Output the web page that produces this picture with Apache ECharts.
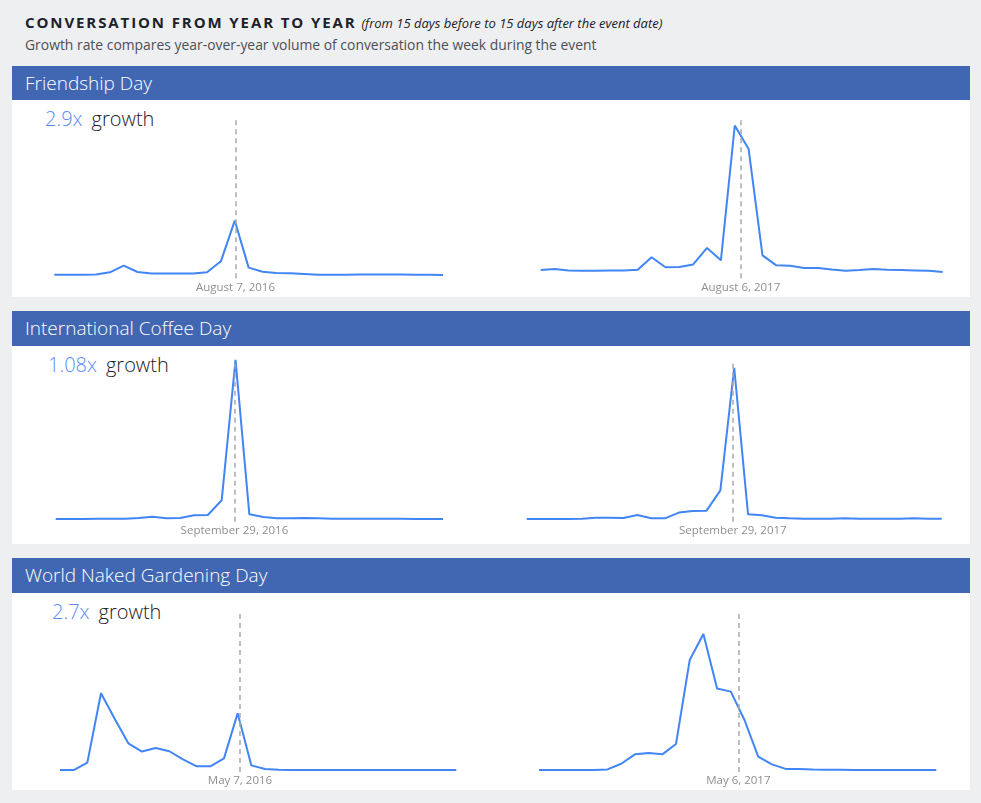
<!DOCTYPE html>
<html><head><meta charset="utf-8">
<script src="https://cdn.jsdelivr.net/npm/echarts@6/dist/echarts.min.js"></script>
<style>
html,body{margin:0;padding:0;}
body{width:981px;height:803px;background:#eeeff1;position:relative;overflow:hidden;font-family:"Open Sans",sans-serif;}
.t1{position:absolute;left:25px;top:12px;font-size:15px;font-weight:700;letter-spacing:1.9px;color:#1d2129;white-space:nowrap;}
.t1 i{font-weight:400;letter-spacing:0;font-size:13px;color:#1d2129;margin-left:-1px;}
.t2{position:absolute;left:25px;top:35px;font-size:13.9px;color:#4b4f56;white-space:nowrap;}
.bar{position:absolute;left:12px;width:958px;height:35px;background:#4267b2;color:#fff;font-size:19px;font-weight:300;line-height:35px;box-sizing:border-box;padding-left:13px;white-space:nowrap;}
.panel{position:absolute;left:12px;width:958px;background:#fff;}
.growth{position:absolute;font-size:20px;font-weight:300;white-space:nowrap;line-height:24px;}
.growth .g{color:#5b8bf2;margin-right:9px;}
.growth .w{color:#1d2129;}
#chart{position:absolute;left:0;top:0;width:981px;height:803px;z-index:5;}
</style></head>
<body>
<div class="t1">CONVERSATION FROM YEAR TO YEAR <i>(from 15 days before to 15 days after the event date)</i></div>
<div class="t2">Growth rate compares year-over-year volume of conversation the week during the event</div>
<div id="chart"></div>
<script>
// ---- data ----
const panelTitles = ["Friendship Day", "International Coffee Day", "World Naked Gardening Day"];
const growthValues = ["2.9x", "1.08x", "2.7x"];
const growthWord = "growth";
const dateLabels = [["August 7, 2016", "August 6, 2017"], ["September 29, 2016", "September 29, 2017"], ["May 7, 2016", "May 6, 2017"]];
// position of the event date along each series (in day index)
const eventPos = [[13.05, 14.43], [12.92, 14.9], [13.17, 14.55]];

const friendship2016 = [2.2,2.2,2.2,2.4,3.7,7.8,3.9,2.9,2.9,2.9,2.9,3.7,10.5,35.7,6.6,4.1,3.3,3.1,2.7,2.2,2.2,2.2,2.4,2.4,2.4,2.4,2.2,2.2,2.0];
const friendship2017 = [5.1,5.8,4.9,4.7,4.7,4.9,4.9,5.3,13.0,6.8,7.0,8.6,18.8,11.1,94.5,80.0,14.2,8.0,7.8,6.4,6.4,5.5,4.7,5.1,5.8,5.3,5.1,4.9,4.7,3.9];
const coffee2016 = [1.7,1.7,1.7,1.9,1.9,1.9,2.3,3.1,2.1,2.3,4.0,4.2,13.4,101.3,4.6,2.9,2.1,2.1,2.3,2.1,1.9,1.9,1.9,1.9,1.9,1.9,1.7,1.7,1.7];
const coffee2017 = [1.7,1.7,1.7,1.7,1.9,2.5,2.5,2.3,4.2,2.1,2.1,5.7,6.7,6.9,19.6,96.4,4.6,4.0,2.5,2.1,1.9,1.9,1.9,2.1,1.9,1.9,1.9,1.9,2.1,1.9,1.9];
const gardening2016 = [1.2,1.2,5.8,48.6,32.9,17.7,12.6,14.8,12.8,7.8,3.5,3.5,8.4,36.2,4.1,1.9,1.4,1.2,1.2,1.2,1.2,1.2,1.2,1.2,1.2,1.2,1.2,1.2,1.2,1.2];
const gardening2017 = [1.2,1.2,1.2,1.2,1.2,1.6,5.1,10.9,11.7,10.9,17.3,69.1,85.2,51.6,49.6,32.1,9.5,4.7,1.9,1.9,1.6,1.4,1.4,1.2,1.2,1.2,1.2,1.2,1.2,1.2];

const seriesData = [[friendship2016, friendship2017], [coffee2016, coffee2017], [gardening2016, gardening2017]];

// ---- layout ----
const barTops = [66, 311, 558];
const panelTops = [100, 346, 593];
const panelHeights = [197, 198, 197];
const growthPos = [[45, 107], [48, 353], [52, 600]];
const plotTop = [116.7, 362, 610];
const plotHeight = [161.6, 159.7, 162];
const plotX = [[[54.3, 443], [540.7, 942.7]], [[55.7, 443], [526.7, 941.7]], [[60, 456.3], [539, 936.3]]];

for (let p = 0; p < 3; p++) {
  const b = document.createElement('div');
  b.className = 'bar'; b.style.top = barTops[p] + 'px'; b.textContent = panelTitles[p];
  document.body.appendChild(b);
  const pn = document.createElement('div');
  pn.className = 'panel'; pn.style.top = panelTops[p] + 'px'; pn.style.height = panelHeights[p] + 'px';
  document.body.appendChild(pn);
  const g = document.createElement('div');
  g.className = 'growth'; g.style.left = growthPos[p][0] + 'px'; g.style.top = growthPos[p][1] + 'px';
  g.innerHTML = '<span class="g">' + growthValues[p] + '</span><span class="w">' + growthWord + '</span>';
  document.body.appendChild(g);
}

const grids = [], xAxes = [], yAxes = [], series = [];
for (let p = 0; p < 3; p++) {
  for (let k = 0; k < 2; k++) {
    const idx = grids.length;
    const data = seriesData[p][k];
    const [x0, x1] = plotX[p][k];
    grids.push({left: x0, width: x1 - x0, top: plotTop[p], height: plotHeight[p], containLabel: false});
    xAxes.push({type: 'value', gridIndex: idx, min: 0, max: data.length - 1, show: false});
    yAxes.push({type: 'value', gridIndex: idx, min: 0, max: 100, show: false});
    series.push({
      type: 'line', xAxisIndex: idx, yAxisIndex: idx, clip: false,
      data: data.map((v, i) => [i, v]),
      symbol: 'none', smooth: false,
      lineStyle: {color: '#4285f4', width: 2},
      z: 3,
      markLine: {
        silent: true, symbol: 'none', animation: false,
        lineStyle: {color: '#a9a9a9', type: [5, 4], width: 1.5},
        label: {show: true, position: 'start', distance: 3, formatter: dateLabels[p][k],
                color: '#8f8f8f', fontSize: 11.5, fontFamily: 'Open Sans'},
        data: [{xAxis: eventPos[p][k]}]
      }
    });
  }
}

const chart = echarts.init(document.getElementById('chart'), null, {renderer: 'canvas'});
chart.setOption({
  animation: false,
  backgroundColor: 'transparent',
  grid: grids, xAxis: xAxes, yAxis: yAxes, series: series
});
</script>
</body></html>
